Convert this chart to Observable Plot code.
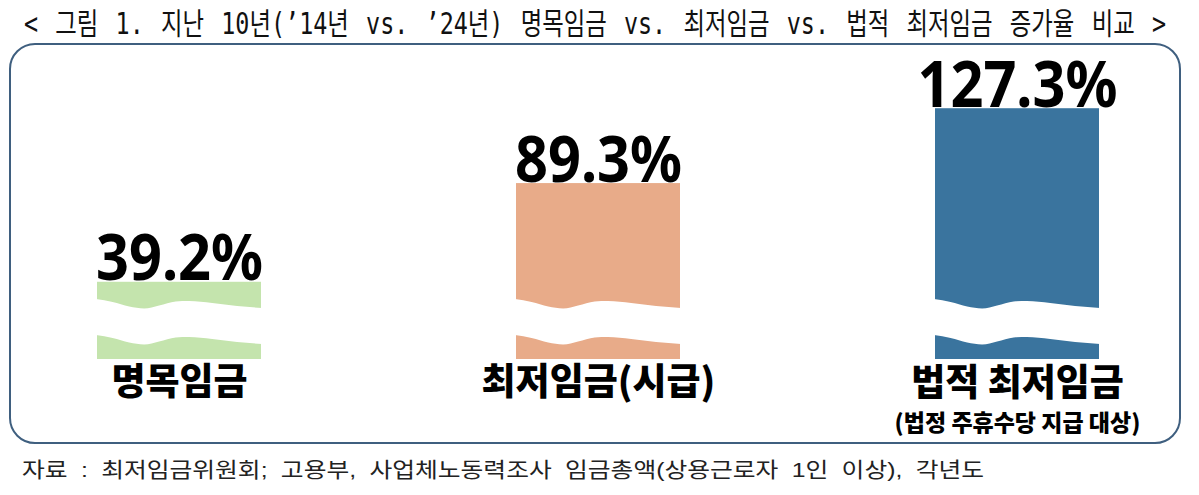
<!DOCTYPE html>
<html>
<head>
<meta charset="utf-8">
<script src="https://cdn.jsdelivr.net/npm/d3@7"></script>
<script src="https://cdn.jsdelivr.net/npm/@observablehq/plot@0.6"></script>
<style>
  html, body { margin: 0; padding: 0; background: #fff; }
  #page { position: relative; width: 1199px; height: 495px; overflow: hidden; background: #fff; }
  #title { position: absolute; left: 0; top: 0; }
  #chart { position: absolute; left: 0; top: 43px; width: 1199px; height: 402px; }
  #box { position: absolute; left: 9px; top: 43px; width: 1172px; height: 401px; box-sizing: border-box;
         border: 2.5px solid #3f5f7f; border-radius: 26px; pointer-events: none; }
  #caption { position: absolute; left: 0; top: 445px; }
</style>
</head>
<body>
<div id="page">
  <svg id="title" width="1199" height="43"></svg>
  <div id="chart"></div>
  <div id="box"></div>
  <svg id="caption" width="1199" height="50"></svg>
</div>
<script>
// ---- data ----
const categories = ["명목임금", "최저임금(시급)", "법적 최저임금"];
const increases = [39.2, 89.3, 127.3];
const notes = ["", "", "(법정 주휴수당 지급 대상)"];
const titleText = "< 그림 1. 지난 10년(’14년 vs. ’24년) 명목임금 vs. 최저임금 vs. 법적 최저임금 증가율 비교 >";
const sourceText = "자료 : 최저임금위원회; 고용부, 사업체노동력조사 임금총액(상용근로자 1인 이상), 각년도";

// ---- styles ----
const barColors = ["#c4e4ad", "#e8ab89", "#3a749e"];
const krFont = "'Noto Sans CJK KR', 'Noto Sans', sans-serif";
const titleFont = "'DejaVu Sans Mono', 'Noto Sans CJK KR', monospace";
const captionFont = "'Liberation Sans', 'Noto Sans CJK KR', sans-serif";
const numFont = "'Noto Sans', 'Noto Sans CJK KR', sans-serif";
// shape of the torn (broken-axis) gap: [fraction of bar width, pixel offset]
const wave = [[0,0],[0.1,3],[0.2,7.5],[0.29,9.5],[0.38,6.5],[0.48,2.5],[0.56,2],[0.7,4],[0.85,7],[1,9]];

const rows = categories.map((c, i) => ({category: c, value: increases[i], note: notes[i]}));

// ---- title & caption (scaled glyphs, fitted to the reference width) ----
function fitText(svgSel, text, font, x, y, size, sx, target, color) {
  const t = d3.select(svgSel).append("text")
    .attr("transform", `translate(${x},${y}) scale(${sx},1)`)
    .attr("x", 0).attr("y", 0)
    .attr("font-family", font)
    .attr("font-size", size)
    .attr("fill", color)
    .text(text);
  const natural = t.node().getComputedTextLength();
  const spaces = (text.match(/ /g) || []).length;
  const extra = target / sx - natural;
  if (extra >= 0 && spaces) t.attr("word-spacing", extra / spaces);
  else t.attr("textLength", target / sx).attr("lengthAdjust", "spacingAndGlyphs");
}
fitText("#title", titleText, titleFont, 24, 34, 30, 0.78, 1142, "#111");
fitText("#caption", sourceText, captionFont, 22, 31.5, 21, 1.18, 962, "#222");

// ---- tear overlay (white wavy band across each bar) ----
function tear(index, scales) {
  const x = scales.x, y = scales.y;
  const bw = typeof x.bandwidth === "function" ? x.bandwidth() : 164;
  const base = y(0);
  const top = base - 60;
  const gap = 36;
  const g = d3.create("svg:g");
  const area = d3.area().curve(d3.curveMonotoneX)
    .x(p => p[0]).y0(p => p[1]).y1(p => p[2]);
  for (const c of categories) {
    const x0 = x(c) - 1, w = bw + 2;
    const pts = wave.map(([t, d]) => [x0 + t * w, top + d, top + gap + d]);
    g.append("path").attr("d", area(pts)).attr("fill", "#fff");
  }
  return g.node();
}

const labelStyle = {fontWeight: 900, fontFamily: krFont, fill: "#000", lineAnchor: "bottom"};

const chart = Plot.plot({
  width: 1199,
  height: 402,
  margin: 0,
  style: {background: "transparent", overflow: "visible"},
  x: {domain: categories, range: [12, 1184], paddingInner: 0.6095, paddingOuter: 0.2, align: 0.5, axis: null},
  y: {domain: [0, 150], range: [316, 20.5], axis: null},
  color: {domain: categories, range: barColors},
  marks: [
    Plot.barY(rows, {x: "category", y: "value", fill: "category"}),
    tear,
    Plot.text(rows, {
      x: "category", y: "value",
      text: d => d.value.toFixed(1) + "%",
      lineAnchor: "bottom", dy: -2,
      fontSize: 64, fontWeight: 700, fontFamily: numFont, fill: "#000"
    }),
    Plot.text(rows.filter(d => !d.note), {
      x: "category", y: d => 0, text: "category", dy: 35, fontSize: 37, ...labelStyle
    }),
    Plot.text(rows.filter(d => d.note), {
      x: "category", y: d => 0, text: "category", dy: 36, fontSize: 37, ...labelStyle
    }),
    Plot.text(rows.filter(d => d.note), {
      x: "category", y: d => 0, text: "note", dy: 71, fontSize: 23, ...labelStyle
    })
  ]
});
document.getElementById("chart").appendChild(chart);

// value labels: slightly condensed, as in the reference
d3.select(chart).selectAll("text")
  .filter(function() { return this.textContent.endsWith("%"); })
  .each(function() {
    const w = this.getComputedTextLength();
    d3.select(this).attr("textLength", w * 0.9).attr("lengthAdjust", "spacingAndGlyphs");
  });
</script>
</body>
</html>
